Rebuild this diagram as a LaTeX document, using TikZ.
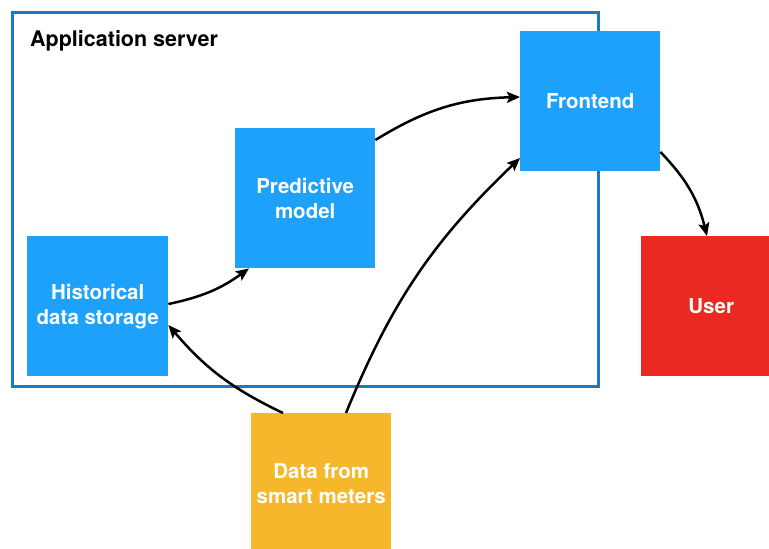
\documentclass[tikz,border=0pt]{standalone}
\usepackage{fontspec}
\setmainfont{TeX Gyre Heros}
\usetikzlibrary{arrows.meta}
\definecolor{boxblue}{RGB}{29,161,250}
\definecolor{frameblue}{RGB}{26,123,192}
\definecolor{userred}{RGB}{234,41,32}
\definecolor{meterorange}{RGB}{246,183,45}
\tikzset{
  block/.style={fill=#1, draw=none, text=white, font=\fontsize{20.5}{25}\selectfont\bfseries,
    align=center, anchor=north west, inner sep=0pt},
  flow/.style={line width=2.5pt, -{Stealth[length=13pt,width=11pt,inset=2.5pt]}}
}
\begin{document}
\begin{tikzpicture}[x=1pt,y=-1pt]
\useasboundingbox (0,0) rectangle (769,549);
\begin{scope}
\clip (0,0) rectangle (769,549);
% application server frame
\draw[frameblue, line width=3pt] (12,12) rectangle (598,386);
\node[anchor=west, inner sep=0pt, font=\fontsize{21.5}{25}\selectfont\bfseries] (title) at (30,41) {Application server};
% components
\node[block=boxblue, minimum width=141pt, minimum height=140pt] (hist) at (27,236) {Historical\\data storage};
\node[block=boxblue, minimum width=140pt, minimum height=140pt] (pred) at (235,128) {Predictive\\model};
\node[block=boxblue, minimum width=140pt, minimum height=140pt] (front) at (520,31) {Frontend};
\node[block=userred, minimum width=140pt, minimum height=140pt] (user) at (641,236) {User};
\node[block=meterorange, minimum width=140pt, minimum height=140pt] (meter) at (251,413) {Data from\\smart meters};
% data flows
\draw[flow] (hist.east |- 0,304) to[bend right=12] (pred.south west -| 249,0);
\draw[flow] (pred.north east |- 0,140) to[bend left=15] (front.west |- 0,97);
\draw[flow] (meter.north west -| 283,0) to[bend left=12] (hist.east |- 0,325);
\draw[flow] (meter.north west -| 346,0) to[bend left=12] (front.south west |- 0,158);
\draw[flow] (front.east |- 0,152) to[bend left=15] (user.north west -| 707,0);
\end{scope}
\end{tikzpicture}
\end{document}
